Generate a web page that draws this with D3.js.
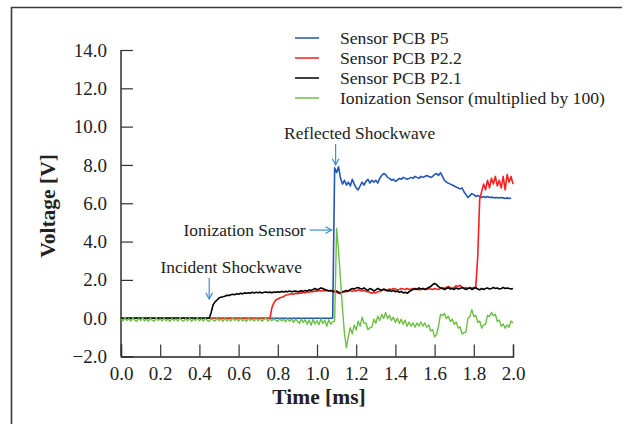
<!DOCTYPE html>
<html><head><meta charset="utf-8">
<script src="https://cdn.jsdelivr.net/npm/d3@7"></script>
<style>body{margin:0;background:#fff}svg{display:block}</style>
</head><body>
<script>
// sampling step of all traces (ms)
const sampleStep = 0.01;
const xTicks = [0.0,0.2,0.4,0.6,0.8,1.0,1.2,1.4,1.6,1.8,2.0];
const yTicks = [-2,0,2,4,6,8,10,12,14];
const seriesNames = ["Sensor PCB P5","Sensor PCB P2.2","Sensor PCB P2.1","Ionization Sensor (multiplied by 100)"];
const seriesColors = ["#2455b8","#f5211e","#000000","#6cbf45"];

const p5 = [
0,0,0,0,0,0,0,0,0,0, 0,0,0,0,0,0,0,0,0,0, 0,0,0,0,0,0,0,0,0,0, 0,0,0,0,0,0,0,0,0,0,
0,0,0,0,0,0,0,0,0,0, 0,0,0,0,0,0,0,0,0,0, 0,0,0,0,0,0,0,0,0,0, 0,0,0,0,0,0,0,0,0,0,
0,0,0,0,0,0,0,0,0,0, 0,0,0,0,0,0,0,0,0,0, 0,0,0,0,0,0,0,0,0,7.85,
7.6,7.9,7.3,7.0,7.2,6.95,7.1,6.9,7.25,7.0,
6.8,6.7,6.9,7.1,6.95,7.15,7.25,7.05,7.2,7.1,
7.2,7.05,7.3,7.45,7.55,7.5,7.35,7.3,7.2,7.25,
7.15,7.2,7.3,7.25,7.35,7.3,7.25,7.3,7.35,7.3,
7.4,7.35,7.3,7.4,7.35,7.4,7.45,7.4,7.35,7.4,
7.5,7.55,7.45,7.6,7.4,7.2,7.1,7.05,7.0,6.95,
6.9,6.85,6.8,6.75,6.8,6.6,6.45,6.3,6.4,6.5,
6.45,6.35,6.4,6.35,6.3,6.35,6.3,6.35,6.3,6.32,
6.3,6.28,6.3,6.27,6.3,6.28,6.25,6.28,6.25,6.27
];
const p22 = [
0,0,0,0,0,0,0,0,0,0, 0,0,0,0,0,0,0,0,0,0, 0,0,0,0,0,0,0,0,0,0, 0,0,0,0,0,0,0,0,0,0,
0,0,0,0,0,0,0,0,0,0, 0,0,0,0,0,0,0,0,0,0, 0,0,0,0,0,0,0,0,0,0, 0,0,0,0,0,0,0,0.55,0.8,0.95,
1.0,1.05,1.1,1.12,1.2,1.22,1.25,1.28,1.25,1.3,
1.28,1.32,1.3,1.35,1.32,1.38,1.35,1.4,1.38,1.42,
1.4,1.45,1.42,1.45,1.42,1.48,1.45,1.42,1.45,1.4,
1.35,1.3,1.28,1.35,1.4,1.38,1.42,1.45,1.4,1.45,
1.42,1.48,1.45,1.42,1.45,1.4,1.38,1.35,1.3,1.35,
1.32,1.38,1.4,1.45,1.5,1.45,1.48,1.52,1.5,1.55,
1.52,1.48,1.5,1.55,1.52,1.5,1.55,1.5,1.52,1.55,
1.5,1.52,1.48,1.5,1.55,1.52,1.5,1.55,1.52,1.5,
1.55,1.52,1.5,1.55,1.6,1.55,1.6,1.65,1.6,1.55,
1.6,1.7,1.65,1.72,1.62,1.58,1.6,1.55,1.6,1.58,
1.6,1.62,3.2,6.2,6.6,7.0,6.7,7.2,6.8,7.3,
7.0,7.4,6.9,7.2,6.8,7.4,6.7,7.5,7.1,7.4,
7.0
];
const p21 = [
0,0,0,0,0,0,0,0,0,0, 0,0,0,0,0,0,0,0,0,0, 0,0,0,0,0,0,0,0,0,0, 0,0,0,0,0,0,0,0,0,0,
0,0,0,0,0,0,0.3,0.7,0.85,0.95,
1.05,1.1,1.12,1.15,1.2,1.18,1.22,1.25,1.22,1.28,
1.25,1.3,1.27,1.32,1.3,1.33,1.3,1.35,1.32,1.35,
1.33,1.36,1.32,1.35,1.37,1.34,1.36,1.33,1.37,1.35,
1.38,1.35,1.4,1.37,1.4,1.38,1.42,1.38,1.4,1.42,
1.38,1.4,1.43,1.4,1.45,1.42,1.48,1.45,1.5,1.55,
1.48,1.52,1.58,1.55,1.5,1.45,1.42,1.45,1.4,1.38,
1.42,1.35,1.32,1.38,1.4,1.45,1.42,1.5,1.55,1.52,
1.58,1.6,1.55,1.52,1.58,1.5,1.45,1.55,1.5,1.42,
1.48,1.55,1.5,1.45,1.52,1.48,1.42,1.45,1.4,1.45,
1.38,1.42,1.35,1.4,1.32,1.35,1.3,1.38,1.45,1.5,
1.55,1.5,1.58,1.52,1.55,1.5,1.55,1.6,1.65,1.75,
1.82,1.75,1.65,1.58,1.55,1.5,1.55,1.6,1.52,1.55,
1.5,1.58,1.52,1.55,1.6,1.55,1.5,1.55,1.58,1.5,
1.55,1.6,1.52,1.48,1.55,1.5,1.55,1.58,1.52,1.55,
1.6,1.55,1.58,1.52,1.55,1.6,1.55,1.58,1.55,1.52,
1.55
];
const ion = [
-0.05,-0.14,0.03,-0.12,-0.02,-0.15,0.02,-0.1,-0.16,-0.01,
-0.12,0.03,-0.14,-0.04,-0.16,0.0,-0.11,-0.15,0.02,-0.12,
-0.03,-0.15,0.0,-0.13,-0.05,-0.17,-0.01,-0.12,-0.03,-0.15,
0.02,-0.11,-0.15,-0.02,-0.13,0.0,-0.16,-0.04,-0.12,0.01,
-0.14,-0.03,-0.15,-0.01,-0.12,-0.17,-0.02,-0.11,-0.15,0.0,
-0.12,-0.04,-0.16,-0.01,-0.13,-0.06,-0.15,0.02,-0.12,-0.03,
-0.15,-0.02,-0.14,-0.05,-0.17,0.0,-0.12,-0.04,-0.15,-0.01,
-0.13,-0.03,-0.16,-0.06,0.0,-0.15,-0.04,-0.14,-0.02,-0.12,
-0.17,-0.03,-0.14,-0.06,-0.19,-0.01,-0.16,-0.04,-0.22,-0.06,
-0.15,-0.27,-0.04,-0.22,-0.08,-0.32,-0.1,-0.37,-0.06,-0.3,
-0.13,-0.34,-0.04,-0.27,-0.1,-0.42,-0.08,-0.32,-0.18,-0.15,
4.7,3.5,2.0,0.5,-0.8,-1.55,-0.95,-0.5,-0.82,-0.35,
-0.62,-0.15,-0.42,0.05,-0.27,-0.25,-0.6,-0.5,-0.47,-0.05,
-0.27,0.1,-0.12,0.2,-0.02,0.3,-0.02,0.15,-0.12,0.05,
-0.22,0.0,-0.27,-0.05,-0.32,-0.1,-0.42,-0.2,-0.42,-0.25,
-0.47,-0.25,-0.42,-0.2,-0.42,-0.25,-0.47,-0.35,-0.67,-0.6,
-0.97,-0.85,-0.42,0.2,0.13,0.25,-0.02,0.1,-0.17,-0.05,
-0.32,-0.2,-0.52,-0.45,-0.82,-0.75,-0.72,0.0,0.08,0.45,
0.08,0.15,-0.22,-0.15,-0.52,-0.35,-0.32,0.15,0.08,0.3,
0.13,0.2,-0.17,-0.1,-0.42,-0.3,-0.52,-0.35,-0.47,-0.15,
-0.25
];
const seriesValues = [p5, p22, p21, ion];

const annotations = [
  {text:"Reflected Shockwave", t:1.095, v:7.95, dir:"down", dx:24},
  {text:"Ionization Sensor", t:1.085, v:4.6, dir:"right", dx:0},
  {text:"Incident Shockwave", t:0.45, v:0.95, dir:"down", dx:22}
];

const W = 626, H = 424;
const svg = d3.select("body").append("svg").attr("width", W).attr("height", H);
const x = d3.scaleLinear().domain([0, 2]).range([121, 513]);
const y = d3.scaleLinear().domain([-2, 14]).range([356.5, 50]);
const serif = "'Liberation Serif','Times New Roman',serif";

// frame
svg.append("path").attr("d", "M11.5,424 V7.5 H622").attr("fill","none").attr("stroke","#3a3a3a").attr("stroke-width",1.6);

// axes
const fmt = d => (d < 0 ? "\u2212" + Math.abs(d).toFixed(1) : d.toFixed(1));
const gy = svg.append("g").attr("transform", `translate(${x(0)},0)`)
  .call(d3.axisLeft(y).tickValues(yTicks).tickSize(-12).tickPadding(14).tickFormat(fmt));
const gx = svg.append("g").attr("transform", `translate(0,${y(-2)})`)
  .call(d3.axisBottom(x).tickValues(xTicks).tickSize(-12).tickPadding(6).tickFormat(d => d.toFixed(1)));
[gx, gy].forEach(g => {
  g.select(".domain").attr("stroke", "#222").attr("stroke-width", 1.4);
  g.selectAll(".tick line").attr("stroke", "#333").attr("stroke-width", 1.2);
  g.selectAll(".tick text").attr("font-family", serif).attr("font-size", 19).attr("fill", "#222");
});
gy.select(".domain").attr("d", `M0,${y(14)}H0V${y(-2)}`);
gy.selectAll(".tick line").attr("x2", 12);
gx.selectAll(".tick text").attr("dy", "0.9em");

// axis titles
svg.append("text").attr("x", 319).attr("y", 404).attr("text-anchor","middle")
  .attr("font-family", serif).attr("font-weight","bold").attr("font-size", 21.5).attr("fill","#222").text("Time [ms]");
svg.append("text").attr("transform","translate(55,206) rotate(-90)").attr("text-anchor","middle")
  .attr("font-family", serif).attr("font-weight","bold").attr("font-size", 21.5).attr("fill","#222").text("Voltage [V]");

// lines
const line = d3.line().x((d,i) => x(i * sampleStep)).y(d => y(d));
seriesValues.forEach((vals, k) => {
  svg.append("path").datum(vals).attr("d", line).attr("fill","none")
    .attr("stroke", seriesColors[k]).attr("stroke-width", k === 3 ? 1.4 : 1.6).attr("stroke-linejoin","round");
});

// legend
seriesNames.forEach((n, k) => {
  const ly = 38 + k * 20;
  svg.append("line").attr("x1",295).attr("x2",319).attr("y1",ly).attr("y2",ly)
    .attr("stroke", seriesColors[k]).attr("stroke-width",1.5);
  svg.append("text").attr("x",340).attr("y",ly).attr("dy","0.35em")
    .attr("font-family", serif).attr("font-size",17.6).attr("fill","#222").text(n);
});

// annotations
const arrowColor = "#3b8fd8";
function arrow(x1,y1,x2,y2){
  const g = svg.append("g").attr("stroke", arrowColor).attr("stroke-width",1.2).attr("fill","none");
  g.append("line").attr("x1",x1).attr("y1",y1).attr("x2",x2).attr("y2",y2);
  const a = Math.atan2(y2-y1, x2-x1), L = 7, s = 0.5;
  g.append("path").attr("d", `M${x2 - L*Math.cos(a-s)},${y2 - L*Math.sin(a-s)} L${x2},${y2} L${x2 - L*Math.cos(a+s)},${y2 - L*Math.sin(a+s)}`);
}
annotations.forEach(a => {
  const px = x(a.t), py = y(a.v);
  if (a.dir === "down") {
    arrow(px, py - 22, px, py - 1);
    svg.append("text").attr("x", px + a.dx).attr("y", py - 27)
      .attr("text-anchor","middle").attr("font-family", serif).attr("font-size",17.4).attr("fill","#222").text(a.text);
  } else {
    arrow(px - 24, py, px - 2, py);
    svg.append("text").attr("x", px - 28).attr("y", py).attr("dy","0.35em")
      .attr("text-anchor","end").attr("font-family", serif).attr("font-size",17.4).attr("fill","#222").text(a.text);
  }
});
</script>
</body></html>
